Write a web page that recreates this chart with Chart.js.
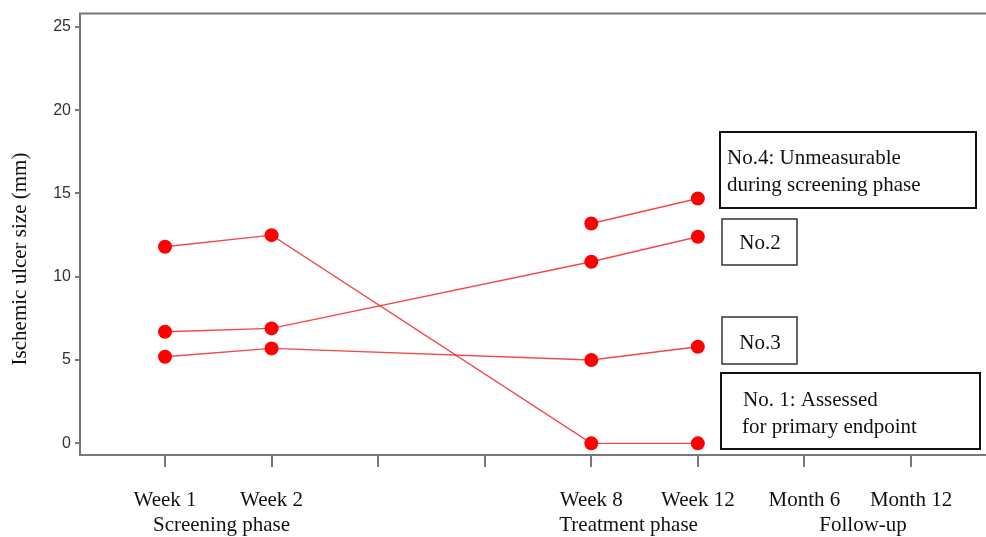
<!DOCTYPE html>
<html>
<head>
<meta charset="utf-8">
<script src="https://cdn.jsdelivr.net/npm/chart.js@4"></script>
<style>
  html, body { margin: 0; padding: 0; background: #fff; }
  #wrap { width: 986px; height: 537px; position: relative; }
</style>
</head>
<body>
<div id="wrap"><canvas id="c" width="986" height="537"></canvas></div>
<script>
// Visit time points along the x axis (blank slots are unlabeled ticks)
const timeLabels = ['Week 1', 'Week 2', '', '', 'Week 8', 'Week 12', 'Month 6', 'Month 12'];
// Study phases and the x position (in visit units) where each caption sits
const phaseLabels = ['Screening phase', 'Treatment phase', 'Follow-up'];
const phaseCenters = [1.53, 5.35, 7.55];
// Y axis ticks
const yTicks = [0, 5, 10, 15, 20, 25];

// Ischemic ulcer size (mm) per patient at each visit (null = not measured)
const patient1 = [11.8, 12.5, null, null, 0.0, 0.0, null, null];
const patient2 = [6.7, 6.9, null, null, 10.9, 12.4, null, null];
const patient3 = [5.2, 5.7, null, null, 5.0, 5.8, null, null];
const patient4 = [null, null, null, null, 13.2, 14.7, null, null];

function toPoints(values) {
  const pts = [];
  values.forEach((v, i) => {
    if (v !== null) pts.push({ x: i + 1, y: v });
  });
  return pts;
}

function makeSet(label, values) {
  return {
    label: label,
    data: toPoints(values),
    showLine: true,
    borderColor: 'rgba(240,40,40,0.85)',
    borderWidth: 1.4,
    pointBackgroundColor: '#ff0000',
    pointBorderColor: '#ff0000',
    pointRadius: 7,
    pointBorderWidth: 0
  };
}

// Callout boxes beside the series
const callouts = [
  { x1: 720, y1: 132, x2: 976, y2: 208, lw: 2, stroke: '#111',
    lines: [['No.4: Unmeasurable', 727, 158], ['during screening phase', 727, 185]], align: 'left' },
  { x1: 722, y1: 219, x2: 797, y2: 265, lw: 1.5, stroke: '#333',
    lines: [['No.2', 760, 243]], align: 'center' },
  { x1: 722, y1: 317, x2: 797, y2: 364, lw: 1.5, stroke: '#333',
    lines: [['No.3', 760, 343]], align: 'center' },
  { x1: 721, y1: 373, x2: 980, y2: 449, lw: 2, stroke: '#111',
    lines: [['No. 1: Assessed', 743, 400], ['for primary endpoint', 742, 427]], align: 'left' }
];

const SERIF = '"Liberation Serif", "Times New Roman", serif';

const decorPlugin = {
  id: 'decor',
  afterDraw(chart) {
    const ctx = chart.ctx;
    const area = chart.chartArea;
    const xs = chart.scales.x;
    ctx.save();
    // top frame line, and the x axis line running on to the canvas edge
    ctx.strokeStyle = '#777';
    ctx.lineWidth = 2;
    ctx.beginPath();
    ctx.moveTo(area.left - 1, area.top);
    ctx.lineTo(chart.width, area.top);
    ctx.moveTo(area.right - 1, area.bottom);
    ctx.lineTo(chart.width, area.bottom);
    ctx.stroke();

    // phase captions under the visit labels
    ctx.fillStyle = '#111';
    ctx.font = '21px ' + SERIF;
    ctx.textAlign = 'center';
    ctx.textBaseline = 'middle';
    phaseLabels.forEach((t, i) => {
      ctx.fillText(t, xs.getPixelForValue(phaseCenters[i]), 525);
    });

    // y axis title
    ctx.save();
    ctx.translate(20, 259);
    ctx.rotate(-Math.PI / 2);
    ctx.fillText('Ischemic ulcer size (mm)', 0, 0);
    ctx.restore();

    // callout boxes
    callouts.forEach(b => {
      ctx.fillStyle = '#fff';
      ctx.fillRect(b.x1, b.y1, b.x2 - b.x1, b.y2 - b.y1);
      ctx.strokeStyle = b.stroke;
      ctx.lineWidth = b.lw;
      ctx.strokeRect(b.x1, b.y1, b.x2 - b.x1, b.y2 - b.y1);
      ctx.fillStyle = '#111';
      ctx.textAlign = b.align;
      b.lines.forEach(l => ctx.fillText(l[0], l[1], l[2]));
    });
    ctx.restore();
  }
};

new Chart(document.getElementById('c'), {
  type: 'scatter',
  data: {
    datasets: [
      makeSet('No.1', patient1),
      makeSet('No.2', patient2),
      makeSet('No.3', patient3),
      makeSet('No.4', patient4)
    ]
  },
  options: {
    responsive: false,
    animation: false,
    layout: { padding: { top: 8, right: 0, left: 0, bottom: 0 } },
    plugins: { legend: { display: false }, tooltip: { enabled: false } },
    scales: {
      x: {
        type: 'linear',
        min: 0.2024,
        max: 8.638,
        afterBuildTicks(scale) {
          scale.ticks = timeLabels.map((_, i) => ({ value: i + 1 }));
        },
        afterFit(scale) { scale.height = 82; },
        grid: { drawOnChartArea: false, drawTicks: true, tickLength: 12, color: '#777', lineWidth: 2 },
        border: { display: true, color: '#777', width: 2 },
        ticks: {
          autoSkip: false,
          maxRotation: 0,
          padding: 21,
          color: '#111',
          font: { family: SERIF, size: 21 },
          callback: (v) => timeLabels[Math.round(v) - 1] ?? ''
        }
      },
      y: {
        min: -0.7,
        max: 25.8,
        afterBuildTicks(scale) {
          scale.ticks = yTicks.map(v => ({ value: v }));
        },
        afterFit(scale) { scale.width = 80; },
        grid: { drawOnChartArea: false, drawTicks: true, tickLength: 5, color: '#777', lineWidth: 2 },
        border: { display: true, color: '#777', width: 2 },
        ticks: {
          padding: 4,
          color: '#333',
          font: { family: '"Liberation Sans", Arial, sans-serif', size: 16 }
        }
      }
    }
  },
  plugins: [decorPlugin]
});
</script>
</body>
</html>
